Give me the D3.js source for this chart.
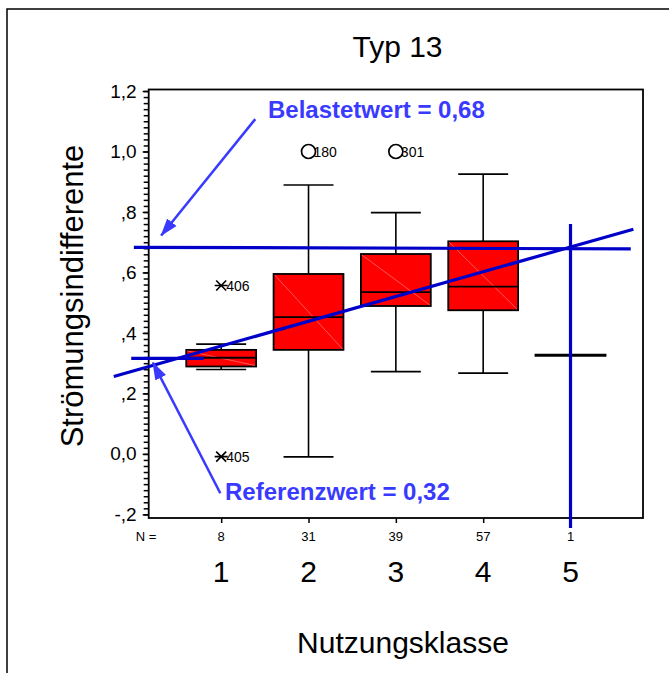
<!DOCTYPE html>
<html>
<head>
<meta charset="utf-8">
<script src="https://cdn.jsdelivr.net/npm/d3@7"></script>
<style>
  body { margin: 0; background: #fff; }
  svg { display: block; }
  text { font-family: "Liberation Sans", Arial, sans-serif; }
</style>
</head>
<body>
<div id="chart"></div>
<script>
// Box plot data per Nutzungsklasse
const categories = [1, 2, 3, 4, 5];
const counts = [8, 31, 39, 57, 1];
const whiskerLow = [0.279, -0.01, 0.272, 0.267, 0.326];
const q1 = [0.289, 0.344, 0.489, 0.475, 0.326];
const medians = [0.318, 0.452, 0.535, 0.553, 0.326];
const q3 = [0.344, 0.595, 0.661, 0.703, 0.326];
const whiskerHigh = [0.363, 0.889, 0.798, 0.925, 0.326];

// Outliers (circle) and extremes (asterisk) with case numbers
const outlierCats = [1, 1, 2, 3];
const outlierValues = [0.557, -0.009, 1.0, 1.0];
const outlierIds = ['406', '405', '180', '301'];
const outlierTypes = ['extreme', 'extreme', 'outlier', 'outlier'];

// y axis ticks, SPSS style labels
const yTicks = [-0.2, 0, 0.2, 0.4, 0.6, 0.8, 1.0, 1.2];
const yTickLabels = ['-,2', '0,0', ',2', ',4', ',6', ',8', '1,0', '1,2'];

// Reference lines drawn onto the chart (category units, value)
const belastetLine = [[0.0, 0.683], [5.69, 0.678]];
const referenzLine = [[-0.03, 0.316], [0.8, 0.316]];
const trendLine = [[-0.23, 0.256], [5.72, 0.743]];
const verticalLine = [[5, 0.76], [5, -0.245]];

// Annotations
const annoTexts = ['Belastetwert = 0,68', 'Referenzwert = 0,32'];
const annoPos = [[1.536, 1.111], [1.044, -0.152]];
const arrowFrom = [[1.39, 1.107], [0.99, -0.13]];
const arrowTo = [[0.313, 0.722], [0.218, 0.302]];

const width = 669, height = 673;
const plot = {left: 148.7, top: 89.5, right: 643, bottom: 518};

const svg = d3.select('#chart').append('svg')
    .attr('width', width)
    .attr('height', height);

svg.append('defs').append('marker')
    .attr('id', 'arrow')
    .attr('markerUnits', 'userSpaceOnUse')
    .attr('viewBox', '0 -7 18 14')
    .attr('refX', 17)
    .attr('refY', 0)
    .attr('markerWidth', 18)
    .attr('markerHeight', 14)
    .attr('orient', 'auto')
  .append('path')
    .attr('d', 'M0,-6L18,0L0,6Z')
    .attr('fill', '#3a3aff');

// outer frame (open to the right and bottom)
svg.append('rect')
    .attr('x', 7).attr('y', 9)
    .attr('width', 720).attr('height', 720)
    .attr('fill', 'none')
    .attr('stroke', '#000')
    .attr('stroke-width', 1.5);

const x = d3.scaleLinear().domain([0.17, 5.83]).range([plot.left, plot.right]);
const y = d3.scaleLinear().domain([-0.212, 1.205]).range([plot.bottom, plot.top]);

// plot frame
svg.append('rect')
    .attr('x', plot.left).attr('y', plot.top)
    .attr('width', plot.right - plot.left)
    .attr('height', plot.bottom - plot.top)
    .attr('fill', 'none')
    .attr('stroke', '#000')
    .attr('stroke-width', 1.8);

// y axis: minor ticks every 0.02, majors every 0.2
const minorTicks = d3.range(-0.2, 1.2001, 0.02);
const yMinor = svg.append('g')
    .attr('transform', `translate(${plot.left},0)`)
    .call(d3.axisLeft(y).tickValues(minorTicks).tickSize(5).tickFormat(''));
const yMajor = svg.append('g')
    .attr('transform', `translate(${plot.left},0)`)
    .call(d3.axisLeft(y).tickValues(yTicks).tickSize(6).tickPadding(6)
      .tickFormat((d, i) => yTickLabels[i]));
[yMinor, yMajor].forEach(g => {
  g.select('.domain').remove();
  g.selectAll('line').attr('stroke', '#000').attr('stroke-width', 1.5);
});
yMajor.selectAll('text')
    .attr('font-size', 19)
    .attr('fill', '#000')
    .style('font-family', '"Liberation Sans", Arial, sans-serif');

// x axis ticks
const xAxisG = svg.append('g')
    .attr('transform', `translate(0,${plot.bottom})`)
    .call(d3.axisBottom(x).tickValues(categories).tickSize(5).tickFormat(''));
xAxisG.select('.domain').remove();
xAxisG.selectAll('line').attr('stroke', '#000').attr('stroke-width', 1.5);

// N labels
svg.append('text')
    .attr('x', 146).attr('y', 541)
    .attr('text-anchor', 'middle')
    .attr('font-size', 13)
    .text('N =');
svg.selectAll('.n-label')
    .data(categories)
    .join('text')
    .attr('class', 'n-label')
    .attr('x', d => x(d))
    .attr('y', 541)
    .attr('text-anchor', 'middle')
    .attr('font-size', 13)
    .text((d, i) => counts[i]);

// category labels
svg.selectAll('.cat-label')
    .data(categories)
    .join('text')
    .attr('class', 'cat-label')
    .attr('x', d => x(d))
    .attr('y', 582)
    .attr('text-anchor', 'middle')
    .attr('font-size', 30)
    .text(d => d);

// titles
svg.append('text')
    .attr('x', 397.5).attr('y', 57)
    .attr('text-anchor', 'middle')
    .attr('font-size', 30)
    .text('Typ 13');

svg.append('text')
    .attr('x', 403).attr('y', 653)
    .attr('text-anchor', 'middle')
    .attr('font-size', 30)
    .text('Nutzungsklasse');

svg.append('text')
    .attr('transform', 'translate(83,296) rotate(-90)')
    .attr('text-anchor', 'middle')
    .attr('font-size', 31)
    .text('Strömungsindifferente');

// boxes
const boxHalf = 0.4, capHalf = 0.286;
const boxes = categories.map((c, i) => ({
  cat: c, n: counts[i], lo: whiskerLow[i], q1: q1[i], med: medians[i], q3: q3[i], hi: whiskerHigh[i]
}));

const boxG = svg.selectAll('.box')
    .data(boxes)
    .join('g')
    .attr('class', 'box');

boxG.filter(d => d.n > 1).each(function(d) {
  const g = d3.select(this);
  const x0 = x(d.cat - boxHalf), x1 = x(d.cat + boxHalf), xc = x(d.cat);
  // whiskers
  g.append('line')
      .attr('x1', xc).attr('x2', xc)
      .attr('y1', y(d.hi)).attr('y2', y(d.q3))
      .attr('stroke', '#000').attr('stroke-width', 1.6);
  g.append('line')
      .attr('x1', xc).attr('x2', xc)
      .attr('y1', y(d.q1)).attr('y2', y(d.lo))
      .attr('stroke', '#000').attr('stroke-width', 1.6);
  [d.hi, d.lo].forEach(v => {
    g.append('line')
        .attr('x1', x(d.cat - capHalf)).attr('x2', x(d.cat + capHalf))
        .attr('y1', y(v)).attr('y2', y(v))
        .attr('stroke', '#000').attr('stroke-width', 1.6);
  });
  g.append('rect')
      .attr('x', x0).attr('y', y(d.q3))
      .attr('width', x1 - x0).attr('height', y(d.q1) - y(d.q3))
      .attr('fill', '#ff0000')
      .attr('stroke', '#000').attr('stroke-width', 1.8);
  // faint fill seam
  g.append('line')
      .attr('x1', x0 + 1).attr('y1', y(d.q3) + 1)
      .attr('x2', x1 - 1).attr('y2', y(d.q1) - 1)
      .attr('stroke', '#ff9090').attr('stroke-width', 0.6);
  g.append('line')
      .attr('x1', x0).attr('x2', x1)
      .attr('y1', y(d.med)).attr('y2', y(d.med))
      .attr('stroke', '#000').attr('stroke-width', 1.8);
});

// single case: only a line
boxG.filter(d => d.n === 1)
  .append('line')
    .attr('x1', d => x(d.cat - boxHalf) - 1)
    .attr('x2', d => x(d.cat + boxHalf) + 1)
    .attr('y1', d => y(d.med))
    .attr('y2', d => y(d.med))
    .attr('stroke', '#000')
    .attr('stroke-width', 3);

// outliers
const outliers = outlierCats.map((c, i) => ({
  cat: c, value: outlierValues[i], id: outlierIds[i], type: outlierTypes[i]
}));
const outG = svg.selectAll('.outlier')
    .data(outliers)
    .join('g')
    .attr('class', 'outlier')
    .attr('transform', d => `translate(${x(d.cat)},${y(d.value)})`);

outG.filter(d => d.type === 'outlier')
  .append('circle')
    .attr('r', 7)
    .attr('fill', 'none')
    .attr('stroke', '#000')
    .attr('stroke-width', 1.7);

outG.filter(d => d.type === 'extreme')
  .append('path')
    .attr('d', 'M-5,-5L5,5M-5,5L5,-5M-6.5,0L6.5,0')
    .attr('stroke', '#000')
    .attr('stroke-width', 1.6);

outG.append('text')
    .attr('x', 5)
    .attr('dy', '0.36em')
    .attr('font-size', 14)
    .text(d => d.id);

// blue reference lines
const line = d3.line().x(d => x(d[0])).y(d => y(d[1]));
[belastetLine, referenzLine, trendLine, verticalLine].forEach(pts => {
  svg.append('path')
      .attr('d', line(pts))
      .attr('fill', 'none')
      .attr('stroke', '#0000c8')
      .attr('stroke-width', 3.2);
});

// arrows
arrowFrom.forEach((f, i) => {
  svg.append('line')
      .attr('x1', x(f[0])).attr('y1', y(f[1]))
      .attr('x2', x(arrowTo[i][0])).attr('y2', y(arrowTo[i][1]))
      .attr('stroke', '#3a3aff')
      .attr('stroke-width', 2.5)
      .attr('marker-end', 'url(#arrow)');
});

// annotation texts
svg.selectAll('.anno')
    .data(annoTexts)
    .join('text')
    .attr('class', 'anno')
    .attr('x', (d, i) => x(annoPos[i][0]))
    .attr('y', (d, i) => y(annoPos[i][1]))
    .attr('font-size', 24)
    .attr('font-weight', 'bold')
    .attr('fill', '#3a3aff')
    .text(d => d);
</script>
</body>
</html>
